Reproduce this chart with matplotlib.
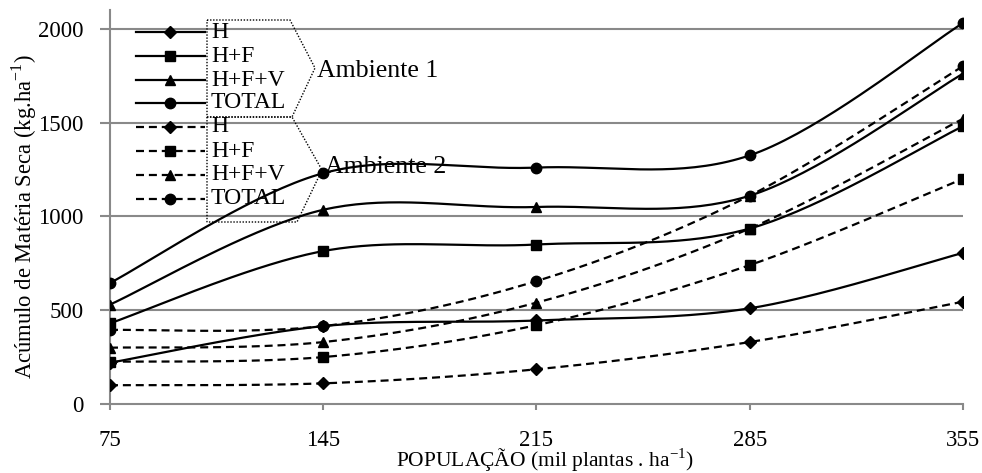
import numpy as np
import matplotlib.pyplot as plt
from matplotlib.lines import Line2D
from matplotlib.patches import Polygon

plt.rcParams['font.family'] = ['Liberation Serif', 'DejaVu Serif']

# data
populacao = ['75', '145', '215', '285', '355']
series_labels = ['H', 'H+F', 'H+F+V', 'TOTAL']
amb1 = {
    'H':     [220, 415, 445, 510, 805],
    'H+F':   [430, 815, 850, 935, 1480],
    'H+F+V': [530, 1035, 1050, 1110, 1760],
    'TOTAL': [645, 1230, 1260, 1325, 2030],
}
amb2 = {
    'H':     [100, 110, 185, 330, 545],
    'H+F':   [225, 250, 420, 740, 1200],
    'H+F+V': [300, 330, 540, 935, 1520],
    'TOTAL': [395, 415, 655, 1110, 1800],
}
markers = {'H': ('D', 6), 'H+F': ('s', 7.5), 'H+F+V': ('^', 7), 'TOTAL': ('o', 7.5)}


def smooth(y, n=40):
    # excel-like smoothed line (catmull-rom bezier)
    x = np.arange(len(y), dtype=float)
    y = np.asarray(y, dtype=float)
    P = np.column_stack([x, y])
    P = np.vstack([P[0], P, P[-1]])
    out = []
    t = np.linspace(0, 1, n)[:, None]
    for i in range(1, len(P) - 2):
        p0, p1 = P[i], P[i + 1]
        b1 = p0 + (P[i + 1] - P[i - 1]) / 6
        b2 = p1 - (P[i + 2] - P[i]) / 6
        seg = (1 - t) ** 3 * p0 + 3 * (1 - t) ** 2 * t * b1 + 3 * (1 - t) * t ** 2 * b2 + t ** 3 * p1
        out.append(seg if i == 1 else seg[1:])
    out = np.vstack(out)
    return out[:, 0], out[:, 1]


fig = plt.figure(figsize=(9.82, 4.73), dpi=100)
ax = fig.add_axes([0.112, 0.1459, 0.8685, 0.833])

gray = '#898989'
dash = (0, (3.6, 2.2))
xs = np.arange(len(populacao))

for data, ls in [(amb1, '-'), (amb2, dash)]:
    for lab in series_labels:
        sx, sy = smooth(data[lab])
        ax.plot(sx, sy, color='black', lw=1.6, linestyle=ls, zorder=3)
        m, ms = markers[lab]
        ax.plot(xs, data[lab], linestyle='none', marker=m, ms=ms, color='black', zorder=4)

ax.set_xlim(0, len(populacao) - 1)
ax.set_ylim(0, 2100)
ax.set_yticks([0, 500, 1000, 1500, 2000])
ax.set_xticks(xs)
ax.set_xticklabels(populacao)
for v in [500, 1000, 1500, 2000]:
    ax.axhline(v, color=gray, lw=1.5, zorder=1)

for s in ['top', 'right']:
    ax.spines[s].set_visible(False)
for s in ['left', 'bottom']:
    ax.spines[s].set_color(gray)
    ax.spines[s].set_linewidth(1.5)
ax.tick_params(axis='y', direction='out', length=7, width=1.5, color=gray, pad=12, labelsize=16.5)
ax.tick_params(axis='x', direction='out', length=4.5, width=1.5, color=gray, pad=14, labelsize=16.5)

ax.set_xlabel('POPULAÇÃO (mil plantas . ha$^{\\mathregular{-1}}$)', fontsize=15.5, va='center')
ax.xaxis.set_label_coords(0.51, -0.142)
ax.set_ylabel('Acúmulo de Matéria Seca (kg.ha$^{\\mathregular{-1}}$)', fontsize=16.3, va='center')
ax.yaxis.set_label_coords(-0.101, 0.475)

# legend drawn by hand (figure pixel coords)
W, H = 982, 473
def fx(px): return px / W
def fy(py): return 1 - py / H

rows = [32, 56, 80, 103, 127, 151, 175, 199]
for k, (ls, lab) in enumerate([(l, s) for l in ['-', dash] for s in series_labels]):
    y = rows[k]
    m, ms = markers[lab]
    fig.add_artist(Line2D([fx(136), fx(205)], [fy(y), fy(y)], color='black', lw=1.6, linestyle=ls))
    fig.add_artist(Line2D([fx(170)], [fy(y)], marker=m, ms=ms, color='black', linestyle='none'))
    fig.text(fx(211), fy(y), lab, fontsize=17, va='center', ha='left')

poly1 = [(207, 20), (290, 20), (315, 68), (292, 117), (207, 117)]
poly2 = [(207, 117), (292, 117), (322, 170), (297, 222), (207, 222)]
for poly in [poly1, poly2]:
    fig.add_artist(Polygon([(fx(a), fy(b)) for a, b in poly], closed=True, fill=False,
                           ec='black', lw=1.0, linestyle=(0, (1, 1.2))))
fig.text(fx(317), fy(71), 'Ambiente 1', fontsize=18.6, va='center', ha='left')
fig.text(fx(325), fy(167), 'Ambiente 2', fontsize=18.6, va='center', ha='left')

fig.savefig('out.png', dpi=100)
